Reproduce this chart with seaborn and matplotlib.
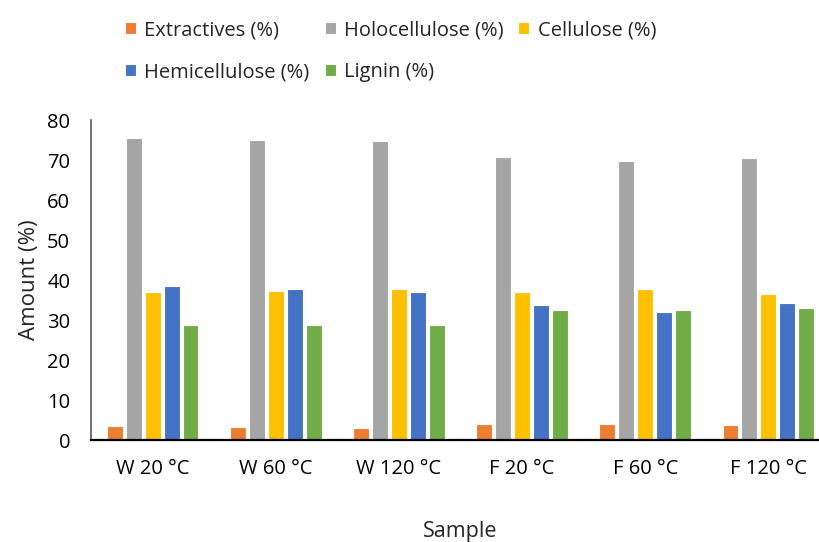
import matplotlib
matplotlib.use("Agg")
import matplotlib.pyplot as plt
import seaborn as sns
import pandas as pd

samples = ["W 20 °C", "W 60 °C", "W 120 °C", "F 20 °C", "F 60 °C", "F 120 °C"]
components = ["Extractives (%)", "Holocellulose (%)", "Cellulose (%)",
              "Hemicellulose (%)", "Lignin (%)"]

extractives = [3.5, 3.3, 3.1, 4.0, 4.0, 3.8]
holocellulose = [75.4, 75.0, 74.7, 70.8, 69.8, 70.5]
cellulose = [36.9, 37.3, 37.8, 37.0, 37.8, 36.4]
hemicellulose = [38.5, 37.8, 37.0, 33.8, 32.0, 34.2]
lignin = [28.8, 28.8, 28.8, 32.5, 32.5, 33.0]

colors = ["#ED7D31", "#A5A5A5", "#FFC000", "#4472C4", "#70AD47"]

series = [extractives, holocellulose, cellulose, hemicellulose, lignin]
df = pd.DataFrame(
    [(s, comp, v) for comp, vals in zip(components, series)
     for s, v in zip(samples, vals)],
    columns=["Sample", "Component", "Amount"],
)

sns.set_style("white")
plt.rcParams["font.family"] = ["Open Sans", "DejaVu Sans"]

fig = plt.figure(figsize=(8.19, 5.42), dpi=100)
ax = fig.add_axes([91 / 819, 1 - 440 / 542, 739 / 819, 320 / 542])

sns.barplot(data=df, x="Sample", y="Amount", hue="Component",
            order=samples, hue_order=components, palette=colors,
            width=0.77, gap=0.16, edgecolor="white", linewidth=0.8,
            saturation=1, errorbar=None, ax=ax)

ax.set_xlim(-0.5, 5.5)
ax.set_ylim(0, 80)
ax.set_yticks(range(0, 81, 10))
ax.tick_params(axis="both", length=0, labelsize=14.5, colors="#000000")
ax.tick_params(axis="y", pad=15)
ax.tick_params(axis="x", pad=14)
ax.set_xlabel("Sample", fontsize=15.5, labelpad=30)
ax.set_ylabel("Amount (%)", fontsize=16, labelpad=5)

for side in ("top", "right"):
    ax.spines[side].set_visible(False)
ax.spines["left"].set_color("#595959")
ax.spines["left"].set_linewidth(1.2)
ax.spines["bottom"].set_color("#000000")
ax.spines["bottom"].set_linewidth(1.6)

# legend laid out row by row: column-major fill with reordered entries
handles, labels = ax.get_legend_handles_labels()
ax.legend_.remove()
order = [0, 3, 1, 4, 2]
fig.legend([handles[i] for i in order], [labels[i] for i in order],
           ncol=3, loc="upper left", bbox_to_anchor=(117 / 819, 1 - 12 / 542),
           frameon=False, fontsize=14.5, handlelength=0.55, handleheight=0.55,
           handletextpad=0.4, columnspacing=0.75, labelspacing=1.1,
           borderaxespad=0)

fig.savefig("out.png", dpi=100)
